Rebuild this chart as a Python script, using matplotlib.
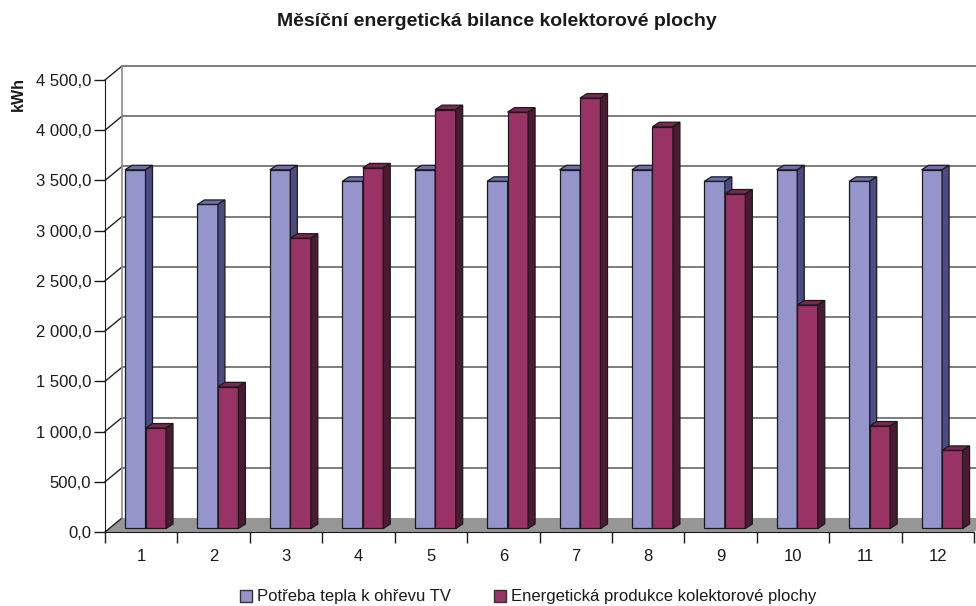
import numpy as np
import matplotlib.pyplot as plt
from matplotlib.patches import Polygon, Patch

# data
mesice = [str(i) for i in range(1, 13)]
potreba = [3571, 3226, 3571, 3456, 3571, 3456, 3571, 3571, 3456, 3571, 3456, 3571]
produkce = [1000, 1410, 2890, 3590, 4170, 4145, 4285, 4000, 3330, 2225, 1020, 777]
serie = ["Potřeba tepla k ohřevu TV", "Energetická produkce kolektorové plochy"]
yticks = np.arange(0, 4501, 500)

plt.rcParams['font.family'] = ['Liberation Sans', 'DejaVu Sans']

W, H = 976, 606
fig = plt.figure(figsize=(W / 100, H / 100), dpi=100)
ax = fig.add_axes([105 / W, (H - 532) / H, (974 - 105) / W, (532 - 80) / H])
ax.set_xlim(0, 12)
ax.set_ylim(0, 4500)

pxx = (974 - 105) / 12.0
pxy = (532 - 80) / 4500.0
DX, DY = 17 / pxx, 14 / pxy          # hloubka steny
bdx, bdy = 7 / pxx, 4.5 / pxy        # hloubka sloupce
base = 35
bw = 20.5 / pxx
off = 20 / pxx

# podlaha
ax.add_patch(Polygon([(0, 0), (12, 0), (12 + DX, DY), (DX, DY)], closed=True,
                     facecolor='#969696', edgecolor='none', zorder=1, clip_on=False))
# mrizka na zadni a bocni stene
for v in yticks:
    ax.plot([0, DX], [v, v + DY], color='#222222', lw=1, zorder=2, clip_on=False)
    if v > 0:
        ax.plot([DX, 12 + DX + 1], [v + DY, v + DY], color='#666666', lw=1.2, zorder=2, clip_on=False)
ax.plot([DX, DX], [DY, 4500 + DY], color='#8c8c8c', lw=1.2, zorder=2, clip_on=False)

cols = [('#9595CB', '#6E6EAE', '#4B4B85'), ('#993366', '#7A2751', '#4A1A32')]
edge = '#1a1a1a'
x = np.arange(12)
for s, vals in enumerate([potreba, produkce]):
    front, top, side = cols[s]
    xl = x + off + s * bw
    ax.bar(xl, vals, width=bw, bottom=base, align='edge', color=front,
           edgecolor=edge, lw=0.9, zorder=5 + s, clip_on=False)
    for xi, v in zip(xl, vals):
        t = base + v
        ax.add_patch(Polygon([(xi, t), (xi + bw, t), (xi + bw + bdx, t + bdy), (xi + bdx, t + bdy)],
                             closed=True, facecolor=top, edgecolor=edge, lw=0.9, zorder=5 + s, clip_on=False))
        ax.add_patch(Polygon([(xi + bw, base), (xi + bw + bdx, base + bdy), (xi + bw + bdx, t + bdy), (xi + bw, t)],
                             closed=True, facecolor=side, edgecolor=edge, lw=0.9, zorder=5 + s, clip_on=False))

for sp in ['top', 'right']:
    ax.spines[sp].set_visible(False)
ax.spines['left'].set_color('#1a1a1a')
ax.spines['bottom'].set_color('#1a1a1a')
ax.spines['left'].set_zorder(3)
ax.spines['bottom'].set_zorder(3)

ax.set_yticks(yticks)
ax.set_yticklabels([f"{v:,.1f}".replace(",", " ").replace(".", ",") for v in yticks])
ax.set_xticks(np.arange(13))
ax.set_xticklabels([])
ax.set_xticks(x + 0.5, minor=True)
ax.set_xticklabels(mesice, minor=True)
ax.tick_params(axis='both', which='major', length=8, width=1, color='#1a1a1a',
               labelsize=12, colors='#1a1a1a', pad=2)
ax.tick_params(axis='x', which='minor', length=0, labelsize=12, pad=12, colors='#1a1a1a')
ax.tick_params(axis='y', labelcolor='#1a1a1a')

fig.text(497 / W, 1 - 22 / H, "Měsíční energetická bilance kolektorové plochy",
         ha='center', va='center', fontsize=14, fontweight='bold', color='#1a1a1a')
fig.text(18 / W, 1 - 94 / H, "kWh", rotation=90, ha='center', va='center',
         fontsize=11.5, fontweight='bold', color='#1a1a1a')

handles = [Patch(facecolor=cols[i][0], edgecolor='#333333', lw=1) for i in range(2)]
fig.legend(handles, serie, loc='center', bbox_to_anchor=(528 / W, 1 - 597 / H), ncol=2,
           frameon=False, fontsize=12, handlelength=0.75, handleheight=0.75,
           handletextpad=0.25, columnspacing=2.6, labelcolor='#1a1a1a')

fig.savefig('out.png', dpi=100)
